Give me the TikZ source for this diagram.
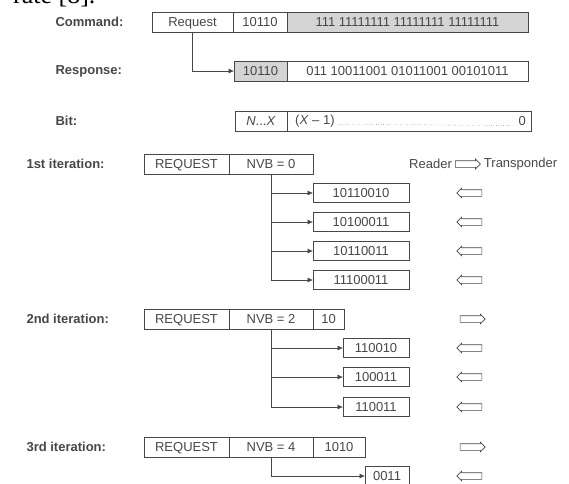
\documentclass[tikz,border=0pt]{standalone}
\usepackage{fontspec}
\setmainfont{Liberation Sans}
\newfontfamily\serifpart{Liberation Serif}
\usetikzlibrary{positioning,arrows.meta,shapes.arrows}

\colorlet{ink}{black!72}
\colorlet{shade}{black!17}

\tikzset{
  cell/.style={draw=ink, line width=0.6pt, text=ink, minimum height=20pt, inner sep=0pt, outer sep=0pt, text height=9.3pt, text depth=0pt, font=\fontsize{13}{15}\selectfont},
  darkcell/.style={cell, fill=shade},
  rowlabel/.style={anchor=west, text=ink, font=\fontsize{13}{15}\selectfont\bfseries},
  plain/.style={text=ink, inner sep=0pt, font=\fontsize{13}{15}\selectfont},
  feed/.style={draw=ink, line width=0.6pt, -{Latex[length=5.5pt,width=5pt]}},
  ack/.style={single arrow, draw=ink, line width=0.6pt, minimum height=25pt, inner xsep=0pt, inner ysep=3pt, single arrow head extend=1.5pt},
  ackleft/.style={ack, shape border rotate=180},
}

\begin{document}
\begin{tikzpicture}[x=1pt,y=-1pt]
\useasboundingbox (0,0) rectangle (569,483);

% cut-off line of the surrounding text
\node[anchor=base west, inner sep=0pt, font=\serifpart\fontsize{26}{28}\selectfont] (fragment) at (13,3) {rate [8].};

% command / response / bit frames
\node[rowlabel] (cmdlbl) at (52,22) {Command:};
\node[cell, minimum width=81pt, anchor=west] (cmdreq) at (152,22) {Request};
\node[cell, minimum width=54pt, right=0pt of cmdreq] (cmdid) {10110};
\node[darkcell, minimum width=241pt, right=0pt of cmdid] (cmdmask) {111 11111111 11111111 11111111};

\node[rowlabel] (resplbl) at (52,71) {Response:};
\node[darkcell, minimum width=53pt, anchor=west] (respid) at (234,71) {10110};
\node[cell, minimum width=241pt, right=0pt of respid] (respbits) {011 10011001 01011001 00101011};
\draw[feed] (cmdreq.south) |- (respid.west);

\node[rowlabel] (bitlbl) at (52,121) {Bit:};
\node[cell, minimum width=52pt, anchor=west] (bitmsb) at (235,121) {\textit{N}...\textit{X}};
\node[cell, minimum width=244pt, right=0pt of bitmsb] (bitrest) {};
\node[plain, anchor=west] (bitnext) at ([xshift=8pt]bitrest.west) {(\textit{X} -- 1)};
\node[plain, anchor=east] (bitzero) at ([xshift=-5pt]bitrest.east) {0};
\draw[ink, dotted] ([xshift=3pt]bitnext.base east) -- ([xshift=-3pt]bitzero.base west);

% 1st iteration
\node[rowlabel] (it1lbl) at (23,164) {1st iteration:};
\node[cell, minimum width=85pt, anchor=west] (req1) at (144,164) {REQUEST};
\node[cell, minimum width=84pt, right=0pt of req1] (nvb1) {NVB = 0};
\node[plain, anchor=west] (reader) at (409,164) {Reader};
\node[ack, right=3pt of reader] (dir1) {};
\node[plain, right=3pt of dir1] (transp) {Transponder};
\foreach \y/\bits [count=\k] in {193/10110010,222/10100011,251/10110011,280/11100011} {
  \node[cell, minimum width=96pt, minimum height=19pt, anchor=west] (ans1\k) at (313,\y) {\bits};
  \draw[feed] (nvb1.south) |- (ans1\k.west);
  \node[ackleft] (back1\k) at (471,\y) {};
}

% 2nd iteration
\node[rowlabel] (it2lbl) at (23,319) {2nd iteration:};
\node[cell, minimum width=85pt, anchor=west] (req2) at (144,319) {REQUEST};
\node[cell, minimum width=84pt, right=0pt of req2] (nvb2) {NVB = 2};
\node[cell, minimum width=31pt, right=0pt of nvb2] (pre2) {10};
\node[ack] (dir2) at (471,319) {};
\foreach \y/\bits [count=\k] in {348/110010,377/100011,407/110011} {
  \node[cell, minimum width=66pt, minimum height=19pt, anchor=west] (ans2\k) at (343,\y) {\bits};
  \draw[feed] (nvb2.south) |- (ans2\k.west);
  \node[ackleft] (back2\k) at (471,\y) {};
}

% 3rd iteration
\node[rowlabel] (it3lbl) at (23,447) {3rd iteration:};
\node[cell, minimum width=85pt, anchor=west] (req3) at (144,447) {REQUEST};
\node[cell, minimum width=84pt, right=0pt of req3] (nvb3) {NVB = 4};
\node[cell, minimum width=52pt, right=0pt of nvb3] (pre3) {1010};
\node[ack] (dir3) at (471,447) {};
\node[cell, minimum width=44pt, minimum height=19pt, anchor=west] (ans31) at (365,476) {0011};
\draw[feed] (nvb3.south) |- (ans31.west);
\node[ackleft] (back31) at (471,476) {};
\end{tikzpicture}
\end{document}
